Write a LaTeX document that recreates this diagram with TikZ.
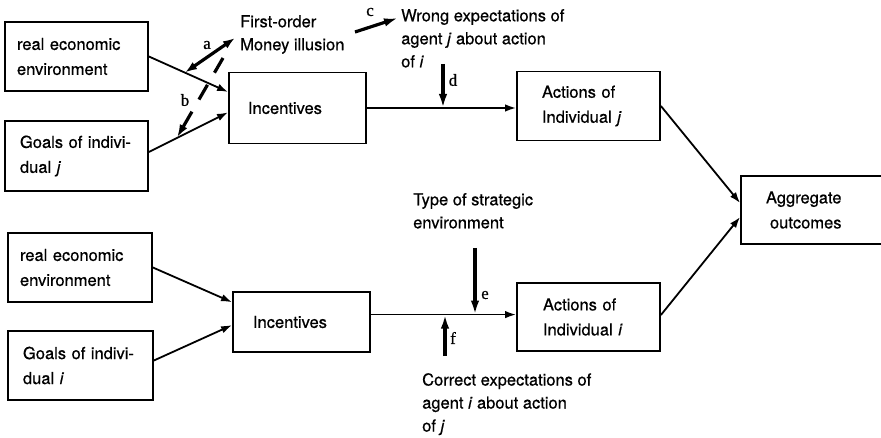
\documentclass[tikz,border=0pt]{standalone}
\usepackage{fontspec}
\setmainfont{TeX Gyre Heros}[FakeBold=0.6]
\newfontfamily\lblfont{Liberation Serif}[FakeBold=0.6]
\usetikzlibrary{arrows.meta,calc}
\begin{document}
\begin{tikzpicture}[x=1pt,y=-1pt,
  box/.style={draw,line width=1.8pt,rectangle,align=left,inner ysep=0pt,font=\fontsize{16.5}{25}\selectfont},
  txt/.style={inner sep=0pt,align=left,anchor=north west,font=\fontsize{16.5}{23}\selectfont},
  lbl/.style={inner sep=0pt,font=\lblfont\fontsize{17}{17}\selectfont},
  thinarr/.style={line width=1.8pt,-{Latex[length=11pt,width=7.5pt]}},
  boldarr/.style={line width=3.2pt,-{Latex[length=14pt,width=8.5pt]}}]
\useasboundingbox (0,0) rectangle (881,438);
% boxes
\node[box,minimum height=69pt,text width=119pt,inner xsep=12pt] (re1) at (76.5,56.5) {real economic\\environment};
\node[box,minimum height=70pt,text width=113pt,inner xsep=15pt] (g1) at (76.5,156) {Goals of indivi-\\dual \textit{j}};
\node[box,minimum height=71pt,text width=99pt,inner xsep=19pt] (inc1) at (297.5,108) {Incentives};
\node[box,minimum height=69pt,text width=93pt,inner xsep=25pt] (actj) at (588.5,106) {Actions of\\Individual \textit{j}};
\node[box,minimum height=68pt,text width=99pt,inner xsep=25pt] (agg) at (815.5,210) {Aggregate\\\hspace*{4pt}outcomes};
\node[box,minimum height=69pt,text width=120pt,inner xsep=12pt] (re2) at (80,267.5) {real economic\\environment};
\node[box,minimum height=69pt,text width=115pt,inner xsep=15pt] (g2) at (80.5,365.5) {Goals of indivi-\\dual \textit{i}};
\node[box,minimum height=60pt,text width=97pt,inner xsep=20pt] (inc2) at (301.5,322) {Incentives};
\node[box,minimum height=68pt,text width=91pt,inner xsep=26pt] (acti) at (588.5,317) {Actions of\\Individual \textit{i}};
% free texts
\node[txt] (fo) at (240,15) {First-order\\Money illusion};
\node[txt] (wrong) at (401,9) {Wrong expectations of\\agent \textit{j} about action\\of \textit{i}};
\node[txt] (type) at (413,193) {Type of strategic\\environment};
\node[txt] (corr) at (422,373) {Correct expectations of\\agent \textit{i} about action\\of \textit{j}};
% main connectors
\draw[thinarr] (re1.east) -- ($(inc1.north west)!0.28!(inc1.south west)$);
\draw[thinarr] ([yshift=4pt]g1.east) -- ($(inc1.north west)!0.56!(inc1.south west)$);
\draw[thinarr] (re2.east) -- ($(inc2.north west)!0.18!(inc2.south west)$);
\draw[thinarr] ([yshift=5pt]g2.east) -- ($(inc2.north west)!0.55!(inc2.south west)$);
\draw[thinarr] (actj.east) -- ($(agg.north west)!0.4!(agg.south west)$);
\draw[thinarr] ([yshift=2pt]acti.east) -- ($(agg.north west)!0.6!(agg.south west)$);
\draw[thinarr] (inc1.east) -- (inc1.east -| actj.west);
\coordinate (m2) at ($(inc2.north east)!0.38!(inc2.south east)$);
\draw[thinarr] (m2) -- (m2 -| acti.west);
% influence arrows
\coordinate (a0) at (185,72.5);
\draw[line width=3.2pt,{Latex[length=12pt,width=8.5pt]}-{Latex[length=12pt,width=8.5pt]}] (a0) -- ($(fo.north west)+(-5,23)$);
\coordinate (b0) at (223,58);
\coordinate (b1) at (177,137.5);
\draw[line width=3.2pt,dash pattern=on 17pt off 14pt,-{Latex[length=13pt,width=8.5pt]}] (b0) -- (b1);
\coordinate (c0) at (355,32);
\draw[boldarr] (c0) -- ($(wrong.north west)+(-3,9)$);
\coordinate (d0) at (443,64);
\draw[boldarr] (d0) -- (d0 |- inc1.east);
\coordinate (e0) at (475,248);
\draw[boldarr] (e0) -- (e0 |- m2);
\coordinate (f0) at (445,356);
\draw[boldarr] (f0) -- (f0 |- m2);
% labels
\node[lbl] (la) at (207,45) {a};
\node[lbl] (lb) at (185,100) {b};
\node[lbl] (lc) at (370,12) {c};
\node[lbl] (ld) at (453,80) {d};
\node[lbl] (le) at (485,295) {e};
\node[lbl] (lf) at (453,338) {f};
\end{tikzpicture}
\end{document}
